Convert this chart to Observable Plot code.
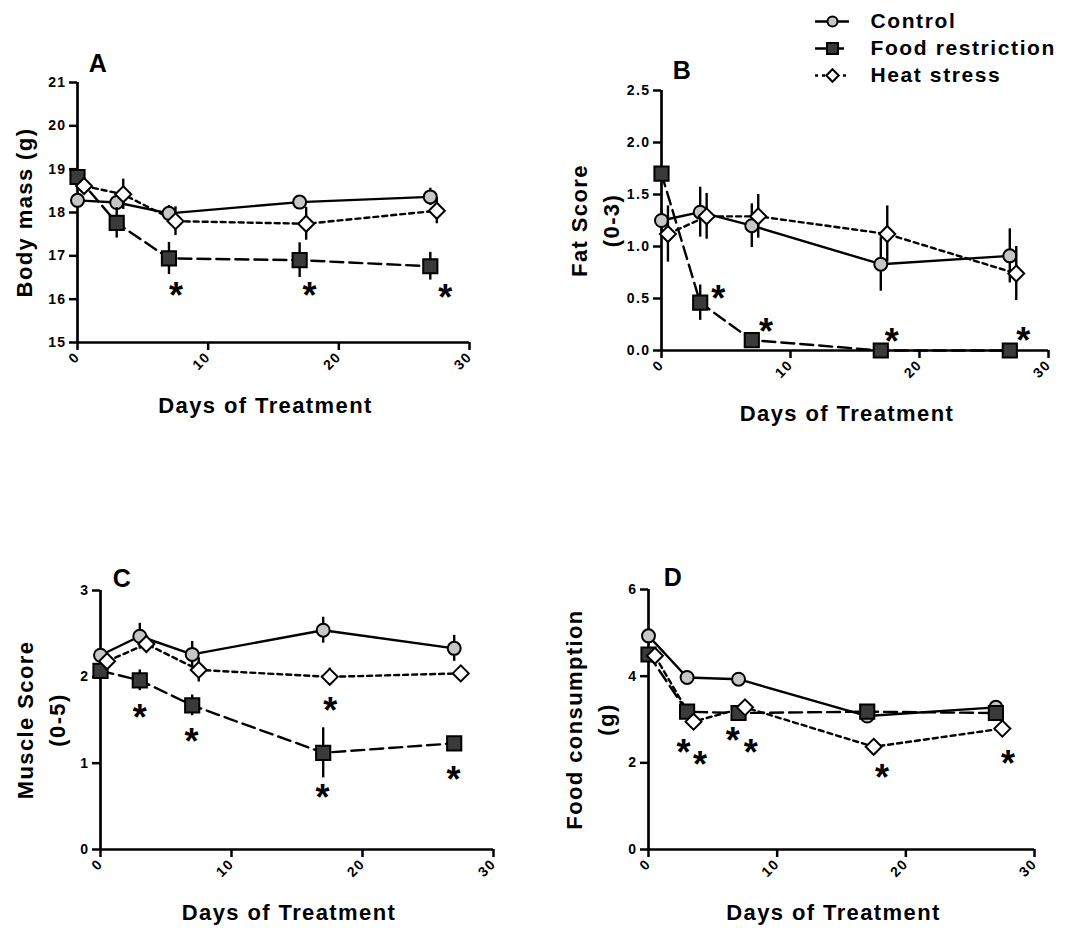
<!DOCTYPE html>
<html><head><meta charset="utf-8">
<script src="https://cdn.jsdelivr.net/npm/d3@7"></script>
<script src="https://cdn.jsdelivr.net/npm/@observablehq/plot@0.6"></script>
<style>
body{margin:0;background:#fff;}
#wrap{position:relative;width:1070px;height:928px;background:#fff;overflow:hidden;}
#wrap > svg{position:absolute;}
</style></head><body><div id="wrap"></div>
<script>
// ---- data ----
const seriesNames = ["Control", "Food restriction", "Heat stress"];
const days = [0, 3, 7, 17, 27];
const hsDays = [0.5, 3.5, 7.5, 17.5, 27.5];
const xTicks = [0, 10, 20, 30];
const xLabel = "Days of Treatment";

// A: body mass (g)
const massControl = [18.28, 18.23, 17.98, 18.24, 18.36];
const massControlErr = [0.1, 0.12, 0.18, 0.15, 0.2];
const massFood = [18.82, 17.76, 16.94, 16.90, 16.76];
const massFoodErr = [0.15, 0.35, 0.37, 0.4, 0.32];
const massHeat = [18.61, 18.42, 17.80, 17.74, 18.04];
const massHeatErr = [0.15, 0.35, 0.33, 0.38, 0.3];
const massTicks = [15, 16, 17, 18, 19, 20, 21];
const massStars = [[7.6, 16.3], [17.8, 16.3], [28.2, 16.25]];

// B: fat score (0-3)
const fatControl = [1.25, 1.33, 1.20, 0.83, 0.91];
const fatControlErr = [0.1, 0.24, 0.21, 0.26, 0.26];
const fatFood = [1.70, 0.46, 0.10, 0, 0];
const fatFoodErr = [0.05, 0.17, 0.05, 0, 0];
const fatHeat = [1.12, 1.29, 1.29, 1.12, 0.74];
const fatHeatErr = [0.27, 0.22, 0.21, 0.27, 0.26];
const fatTicks = [0, 0.5, 1.0, 1.5, 2.0, 2.5];
const fatStars = [[4.46, 0.59], [8.15, 0.27], [17.9, 0.17], [28.1, 0.18]];

// C: muscle score (0-5)
const muscleControl = [2.25, 2.47, 2.26, 2.54, 2.33];
const muscleControlErr = [0.05, 0.15, 0.15, 0.15, 0.15];
const muscleFood = [2.07, 1.96, 1.67, 1.12, 1.23];
const muscleFoodErr = [0.05, 0.12, 0.12, 0.29, 0.05];
const muscleHeat = [2.18, 2.38, 2.08, 2.00, 2.04];
const muscleHeatErr = [0.05, 0.1, 0.14, 0.1, 0.03];
const muscleTicks = [0, 1, 2, 3];
const muscleStars = [[3.05, 1.63], [7.0, 1.36], [17.6, 1.71], [17.0, 0.71], [27.0, 0.92]];

// D: food consumption (g)
const foodControl = [4.93, 3.97, 3.93, 3.08, 3.28];
const foodControlErr = [0.05, 0.05, 0.05, 0.05, 0.05];
const foodFood = [4.50, 3.18, 3.15, 3.18, 3.15];
const foodFoodErr = [0.05, 0.05, 0.05, 0.05, 0.05];
const foodHeat = [4.47, 2.95, 3.28, 2.37, 2.79];
const foodHeatErr = [0.05, 0.05, 0.05, 0.05, 0.05];
const foodTicks = [0, 2, 4, 6];
const foodStars = [[2.77, 2.45], [4.06, 2.18], [6.6, 2.72], [8.0, 2.45], [18.2, 1.88], [28.0, 2.2]];

// ---- styles ----
const seriesStyle = {
  "Control": {dash: null, symbol: "circle", fill: "#c6c6c6", r: 6.5, lr: 5},
  "Food restriction": {dash: "13,6", symbol: "square", fill: "#3a3a3a", r: 8, lr: 6.2},
  "Heat stress": {dash: "5,4", symbol: "diamond2", fill: "white", r: 7.2, lr: 5.6}
};
const FONT = "'Liberation Sans', Arial, sans-serif";

function panel(cfg) {
  const rows = [];
  seriesNames.forEach((s, i) => {
    const xs = s === "Heat stress" ? hsDays : days;
    cfg.values[i].forEach((v, j) => rows.push({series: s, day: xs[j], value: v, err: cfg.errors[i][j]}));
  });
  const stars = cfg.stars.map(([x, y]) => ({x, y}));
  const marks = [];
  // axis lines
  marks.push(Plot.ruleY([cfg.yDomain[0]], {stroke: "black", strokeWidth: 2.7}));
  marks.push(Plot.ruleX([0], {stroke: "black", strokeWidth: 2.7}));
  marks.push(Plot.axisX({ticks: xTicks, tickRotate: -45, tickSize: 8, tickPadding: 4, strokeWidth: 2.5, fontSize: 14, label: null}));
  marks.push(Plot.axisY({ticks: cfg.yTicks, tickFormat: cfg.yFormat, tickSize: 8, tickPadding: 3, strokeWidth: 2.5, fontSize: 14, label: null}));
  // lines
  for (const s of seriesNames) {
    marks.push(Plot.line(rows.filter(d => d.series === s), {x: "day", y: "value", stroke: "black", strokeWidth: 2.4, strokeDasharray: seriesStyle[s].dash}));
  }
  // error bars + markers
  for (const s of seriesNames) {
    const st = seriesStyle[s];
    const sub = rows.filter(d => d.series === s);
    marks.push(Plot.ruleX(sub.filter(d => d.err > 0), {x: "day", y1: d => d.value - d.err, y2: d => d.value + d.err, stroke: "black", strokeWidth: 2.4}));
    marks.push(Plot.dot(sub, {x: "day", y: "value", symbol: st.symbol, r: st.r, fill: st.fill, stroke: "black", strokeWidth: 2}));
  }
  // significance asterisks
  marks.push(Plot.text(stars, {x: "x", y: "y", text: () => "*", fontSize: 36, dy: 10}));
  // titles
  marks.push(Plot.text([cfg.ylabel], {frameAnchor: "left", textAnchor: "middle", lineAnchor: "middle", rotate: -90, dx: cfg.ylabelDx, fontSize: 22, lineHeight: 1.45}));
  marks.push(Plot.text([xLabel], {frameAnchor: "bottom", textAnchor: "middle", lineAnchor: "middle", dy: 63, dx: -8, fontSize: 22}));
  marks.push(Plot.text([cfg.letter], {frameAnchor: "top-left", textAnchor: "middle", lineAnchor: "middle", dx: cfg.letterDx, dy: cfg.letterDy, fontSize: 25}));

  const svg = Plot.plot({
    width: cfg.width, height: cfg.height,
    marginLeft: cfg.ml, marginRight: cfg.mr, marginTop: cfg.mt, marginBottom: cfg.mb,
    x: {domain: [0, 30]},
    y: {domain: cfg.yDomain},
    style: {fontFamily: FONT, fontWeight: "bold", fontSize: "14px", letterSpacing: "1.4px", background: "transparent", color: "black", overflow: "visible"},
    marks
  });
  // enlarge the axis tick labels
  d3.select(svg).selectAll('g[aria-label$="tick label"]').attr("font-size", 14).style("font-size", "14px");
  svg.style.left = cfg.left + "px";
  svg.style.top = cfg.top + "px";
  return svg;
}

const wrap = document.getElementById("wrap");
wrap.appendChild(panel({
  left: 0, top: 40, width: 530, height: 390, ml: 77, mr: 61, mt: 42, mb: 88,
  values: [massControl, massFood, massHeat], errors: [massControlErr, massFoodErr, massHeatErr],
  yDomain: [15, 21], yTicks: massTicks, yFormat: d3.format("d"), stars: massStars,
  ylabel: "Body mass (g)", ylabelDx: -56, letter: "A", letterDx: 21, letterDy: -19
}));
wrap.appendChild(panel({
  left: 540, top: 40, width: 530, height: 390, ml: 121, mr: 22, mt: 50, mb: 80,
  values: [fatControl, fatFood, fatHeat], errors: [fatControlErr, fatFoodErr, fatHeatErr],
  yDomain: [0, 2.5], yTicks: fatTicks, yFormat: d3.format(".1f"), stars: fatStars,
  ylabel: "Fat Score\n(0-3)", ylabelDx: -69, letter: "B", letterDx: 21, letterDy: -20
}));
wrap.appendChild(panel({
  left: 0, top: 560, width: 530, height: 368, ml: 100, mr: 37, mt: 30, mb: 79,
  values: [muscleControl, muscleFood, muscleHeat], errors: [muscleControlErr, muscleFoodErr, muscleHeatErr],
  yDomain: [0, 3], yTicks: muscleTicks, yFormat: d3.format("d"), stars: muscleStars,
  ylabel: "Muscle Score\n(0-5)", ylabelDx: -62, letter: "C", letterDx: 22, letterDy: -12
}));
wrap.appendChild(panel({
  left: 540, top: 560, width: 530, height: 368, ml: 108, mr: 36, mt: 29, mb: 79,
  values: [foodControl, foodFood, foodHeat], errors: [foodControlErr, foodFoodErr, foodHeatErr],
  yDomain: [0, 6], yTicks: foodTicks, yFormat: d3.format("d"), stars: foodStars,
  ylabel: "Food consumption\n(g)", ylabelDx: -61, letter: "D", letterDx: 25, letterDy: -12
}));

// legend
const legendDash = {"Control": null, "Food restriction": "11,7", "Heat stress": "3,4"};
const legendMarks = [];
for (const s of seriesNames) {
  const st = seriesStyle[s];
  legendMarks.push(Plot.ruleY([s], {y: d => d, stroke: "black", strokeWidth: 2.4, strokeDasharray: legendDash[s]}));
  legendMarks.push(Plot.dot([s], {x: () => 0, y: d => d, symbol: st.symbol, r: st.lr, fill: st.fill, stroke: "black", strokeWidth: 2}));
}
legendMarks.push(Plot.text(seriesNames, {x: () => 1, y: d => d, text: d => d, textAnchor: "start", dx: 21, fontSize: 21}));
const legend = Plot.plot({
  width: 270, height: 95, marginLeft: 15, marginRight: 221, marginTop: 20, marginBottom: 20,
  x: {domain: [-1, 1], axis: null},
  y: {type: "point", domain: seriesNames, padding: 0, axis: null},
  style: {fontFamily: FONT, fontWeight: "bold", letterSpacing: "1.6px", background: "transparent", color: "black", overflow: "visible"},
  marks: legendMarks
});
legend.style.left = "800px";
legend.style.top = "0px";
legend.style.zIndex = 5;
wrap.appendChild(legend);
</script></body></html>
